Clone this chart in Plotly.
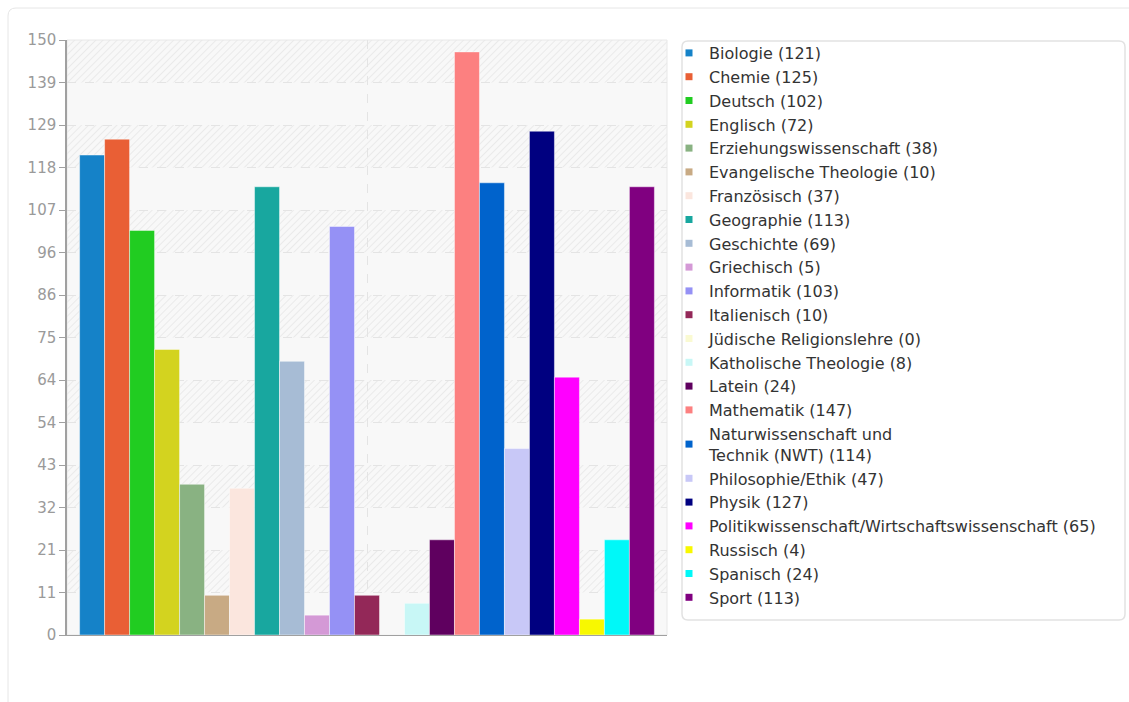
import base64
import plotly.graph_objects as go
import numpy as np

subjects = ["Biologie", "Chemie", "Deutsch", "Englisch", "Erziehungswissenschaft",
            "Evangelische Theologie", "Französisch", "Geographie", "Geschichte",
            "Griechisch", "Informatik", "Italienisch", "Jüdische Religionslehre",
            "Katholische Theologie", "Latein", "Mathematik",
            "Naturwissenschaft und<br>Technik (NWT)", "Philosophie/Ethik", "Physik",
            "Politikwissenschaft/Wirtschaftswissenschaft", "Russisch", "Spanisch", "Sport"]
counts = [121, 125, 102, 72, 38, 10, 37, 113, 69, 5, 103, 10, 0, 8, 24, 147, 114, 47, 127, 65, 4, 24, 113]
colors = ["#1582c8", "#e95f35", "#21cc21", "#d3d31f", "#89b282", "#c8aa84", "#fbe6de",
          "#18a79f", "#a7bcd5", "#d499d6", "#9591f5", "#932858", "#fafad2", "#c8f7f6",
          "#5f005f", "#fc8080", "#0063cc", "#c8c8f7", "#000080", "#ff00ff", "#f8f800",
          "#00f8f8", "#800080"]
y_max = 150
n_intervals = 14
tick_vals = list(np.linspace(0, y_max, n_intervals + 1))
tick_text = ["0", "11", "21", "32", "43", "54", "64", "75", "86", "96", "107", "118", "129", "139", "150"]

W, H = 1129, 702
L, R, T, B = 67, 462, 40, 67
pw, ph = W - L - R, H - T - B


def px(x):
    return (x - L) / pw


def py(y):
    return (H - B - y) / ph


# decorative background: alternating hatched / plain bands between the gridlines
rects = []
for k in range(1, n_intervals, 2):
    top = ph * (1 - tick_vals[k + 1] / y_max)
    hgt = ph * (tick_vals[k + 1] - tick_vals[k]) / y_max
    rects.append(f'<rect x="0" y="{top:.2f}" width="{pw}" height="{hgt:.2f}" fill="url(#h)"/>')
svg = (f'<svg xmlns="http://www.w3.org/2000/svg" width="{pw}" height="{ph}" viewBox="0 0 {pw} {ph}">'
       '<defs><pattern id="h" width="5" height="5" patternUnits="userSpaceOnUse" '
       'patternTransform="rotate(45)"><rect width="5" height="5" fill="#f8f8f8"/>'
       '<line x1="0" y1="0" x2="0" y2="5" stroke="#e9e9e9" stroke-width="1.8"/></pattern></defs>'
       f'<rect width="{pw}" height="{ph}" fill="#f8f8f8"/>' + "".join(rects) + '</svg>')
bg_src = "data:image/svg+xml;base64," + base64.b64encode(svg.encode()).decode()

fig = go.Figure()

for name, val, col in zip(subjects, counts, colors):
    fig.add_trace(go.Bar(
        x=[""], y=[val], name=f"{name} ({val})",
        marker=dict(color=col, line=dict(color="rgba(255,255,255,0.45)", width=1)),
        showlegend=False,
    ))
    fig.add_trace(go.Scatter(
        x=[None], y=[None], mode="markers", name=f"{name} ({val})",
        legendgroup=name,
        marker=dict(symbol="square", size=7, color=col),
        showlegend=True,
    ))


def rounded(x0, y0, x1, y1, r):
    rx, ry = r / pw, r / ph
    a, b_ = px(x0), py(y0)
    c, d = px(x1), py(y1)
    return (f"M {a+rx},{b_} L {c-rx},{b_} Q {c},{b_} {c},{b_-ry} "
            f"L {c},{d+ry} Q {c},{d} {c-rx},{d} L {a+rx},{d} Q {a},{d} {a},{d+ry} "
            f"L {a},{b_-ry} Q {a},{b_} {a+rx},{b_} Z")


shapes = [
    dict(type="path", xref="paper", yref="paper", path=rounded(8, 8, 1140, 720, 8),
         line=dict(color="#e6e6e6", width=1), fillcolor="rgba(0,0,0,0)", layer="below"),
    dict(type="rect", xref="paper", yref="paper", x0=0, x1=1, y0=0, y1=1,
         line=dict(color="#e8e8e8", width=1), fillcolor="rgba(0,0,0,0)", layer="below"),
    dict(type="path", xref="paper", yref="paper", path=rounded(682, 41, 1125, 620, 6),
         line=dict(color="#e2e2e2", width=1.5), fillcolor="white", layer="below"),
]

fig.update_layout(
    width=W, height=H,
    margin=dict(l=L, r=R, t=T, b=B, pad=0),
    paper_bgcolor="white", plot_bgcolor="rgba(0,0,0,0)",
    font=dict(family="DejaVu Sans", color="#333"),
    barmode="group", bargap=0.042, bargroupgap=0,
    images=[dict(source=bg_src, xref="paper", yref="paper", x=0, y=1, sizex=1, sizey=1,
                 xanchor="left", yanchor="top", sizing="stretch", layer="below")],
    xaxis=dict(type="category", range=[-0.5, 0.5],
               showgrid=True, gridcolor="#e4e4e4", griddash="dash", gridwidth=1,
               showticklabels=False, ticks="", showline=True, linecolor="#a0a0a0",
               linewidth=1, zeroline=False, fixedrange=True),
    yaxis=dict(range=[0, y_max], tickvals=tick_vals,
               ticktext=tick_text, ticks="outside", ticklen=6, tickcolor="#a0a0a0",
               showline=True, linecolor="#a0a0a0", linewidth=1.5,
               showgrid=True, gridcolor="#e4e4e4", griddash="dash", gridwidth=1,
               zeroline=False, tickfont=dict(size=15, color="#9a9a9a"), fixedrange=True),
    legend=dict(x=px(669), xanchor="left", y=py(36), yanchor="top",
                bgcolor="rgba(0,0,0,0)", borderwidth=0, maxheight=1,
                font=dict(size=16, color="#333"), tracegroupgap=0,
                traceorder="grouped", itemclick=False),
    shapes=shapes,
)

fig.write_html("out.html", config={"displayModeBar": False},
               post_script="document.body.style.margin='0';")
